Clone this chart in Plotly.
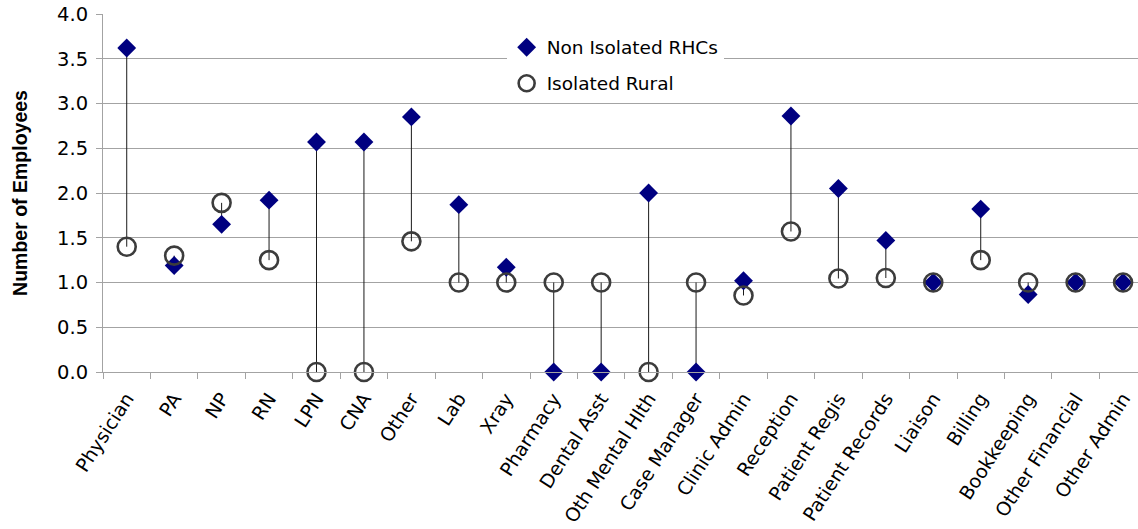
import plotly.graph_objects as go

# Staff categories along the x axis
categories = [
    "Physician", "PA", "NP", "RN", "LPN", "CNA", "Other", "Lab", "Xray",
    "Pharmacy", "Dental Asst", "Oth Mental Hlth", "Case Manager",
    "Clinic Admin", "Reception", "Patient Regis", "Patient Records",
    "Liaison", "Billing", "Bookkeeping", "Other Financial", "Other Admin",
]

# Average number of employees per clinic
non_isolated = [3.62, 1.19, 1.65, 1.92, 2.57, 2.57, 2.85, 1.87, 1.17,
                0.0, 0.0, 2.0, 0.0, 1.02, 2.86, 2.05, 1.47,
                1.0, 1.82, 0.866, 1.0, 1.0]
isolated_rural = [1.40, 1.30, 1.89, 1.25, 0.0, 0.0, 1.46, 1.0, 1.0,
                  1.0, 1.0, 0.0, 1.0, 0.855, 1.57, 1.045, 1.05,
                  1.0, 1.25, 1.0, 1.0, 1.0]

y_ticks = [0.0, 0.5, 1.0, 1.5, 2.0, 2.5, 3.0, 3.5, 4.0]

TEXT_FONT = "DejaVu Sans"
GRID = "#a3a3a3"

# High-low connector segments between the two series
seg_x, seg_y = [], []
for cat, a, b in zip(categories, non_isolated, isolated_rural):
    seg_x += [cat, cat, None]
    seg_y += [a, b, None]

fig = go.Figure()
fig.add_trace(go.Scatter(
    x=seg_x, y=seg_y, mode="lines",
    line=dict(color="#1a1a1a", width=1),
    showlegend=False, hoverinfo="skip", cliponaxis=False,
))
fig.add_trace(go.Scatter(
    x=categories, y=non_isolated, mode="markers", name="Non Isolated RHCs",
    marker=dict(symbol="diamond", size=14.5, color="#000080",
                line=dict(width=0)),
    cliponaxis=False, legendgroup="a",
))
fig.add_trace(go.Scatter(
    x=categories, y=isolated_rural, mode="markers", name="Isolated Rural",
    marker=dict(symbol="circle-open", size=18, color="#3c3c3c",
                line=dict(width=2.6, color="#3c3c3c")),
    cliponaxis=False, legendgroup="b",
))

fig.update_layout(
    width=1138, height=529,
    margin=dict(l=103, r=0, t=14, b=157),
    paper_bgcolor="white", plot_bgcolor="white",
    font=dict(family=TEXT_FONT, size=18.5, color="black"),
    showlegend=True,
    legend=dict(
        x=0.39, y=0.959, xanchor="left", yanchor="top",
        bgcolor="white", borderwidth=0,
        font=dict(family=TEXT_FONT, size=18.5, color="black"),
        tracegroupgap=9,
    ),
    xaxis=dict(
        type="category", categoryorder="array", categoryarray=categories,
        range=[-0.5, 21.315],
        showgrid=False, zeroline=False,
        showline=True, linecolor=GRID, linewidth=1,
        ticks="outside", tickson="boundaries", ticklen=6,
        tickcolor=GRID, tickwidth=1,
        tickangle=-57, ticklabelstandoff=7,
        tickfont=dict(family=TEXT_FONT, size=19, color="black"),
    ),
    yaxis=dict(
        range=[0, 4.0], tickvals=y_ticks, tickformat=".1f",
        showgrid=True, gridcolor=GRID, gridwidth=1,
        zeroline=False,
        showline=True, linecolor=GRID, linewidth=1,
        ticks="outside", ticklen=6, tickcolor=GRID, tickwidth=1,
        ticklabelstandoff=4,
        tickfont=dict(family=TEXT_FONT, size=19.5, color="black"),
        title=dict(text="<b>Number of Employees</b>", standoff=24,
                   font=dict(family="Liberation Sans", size=19.5, color="black")),
    ),
)

fig.write_html("out.html")
